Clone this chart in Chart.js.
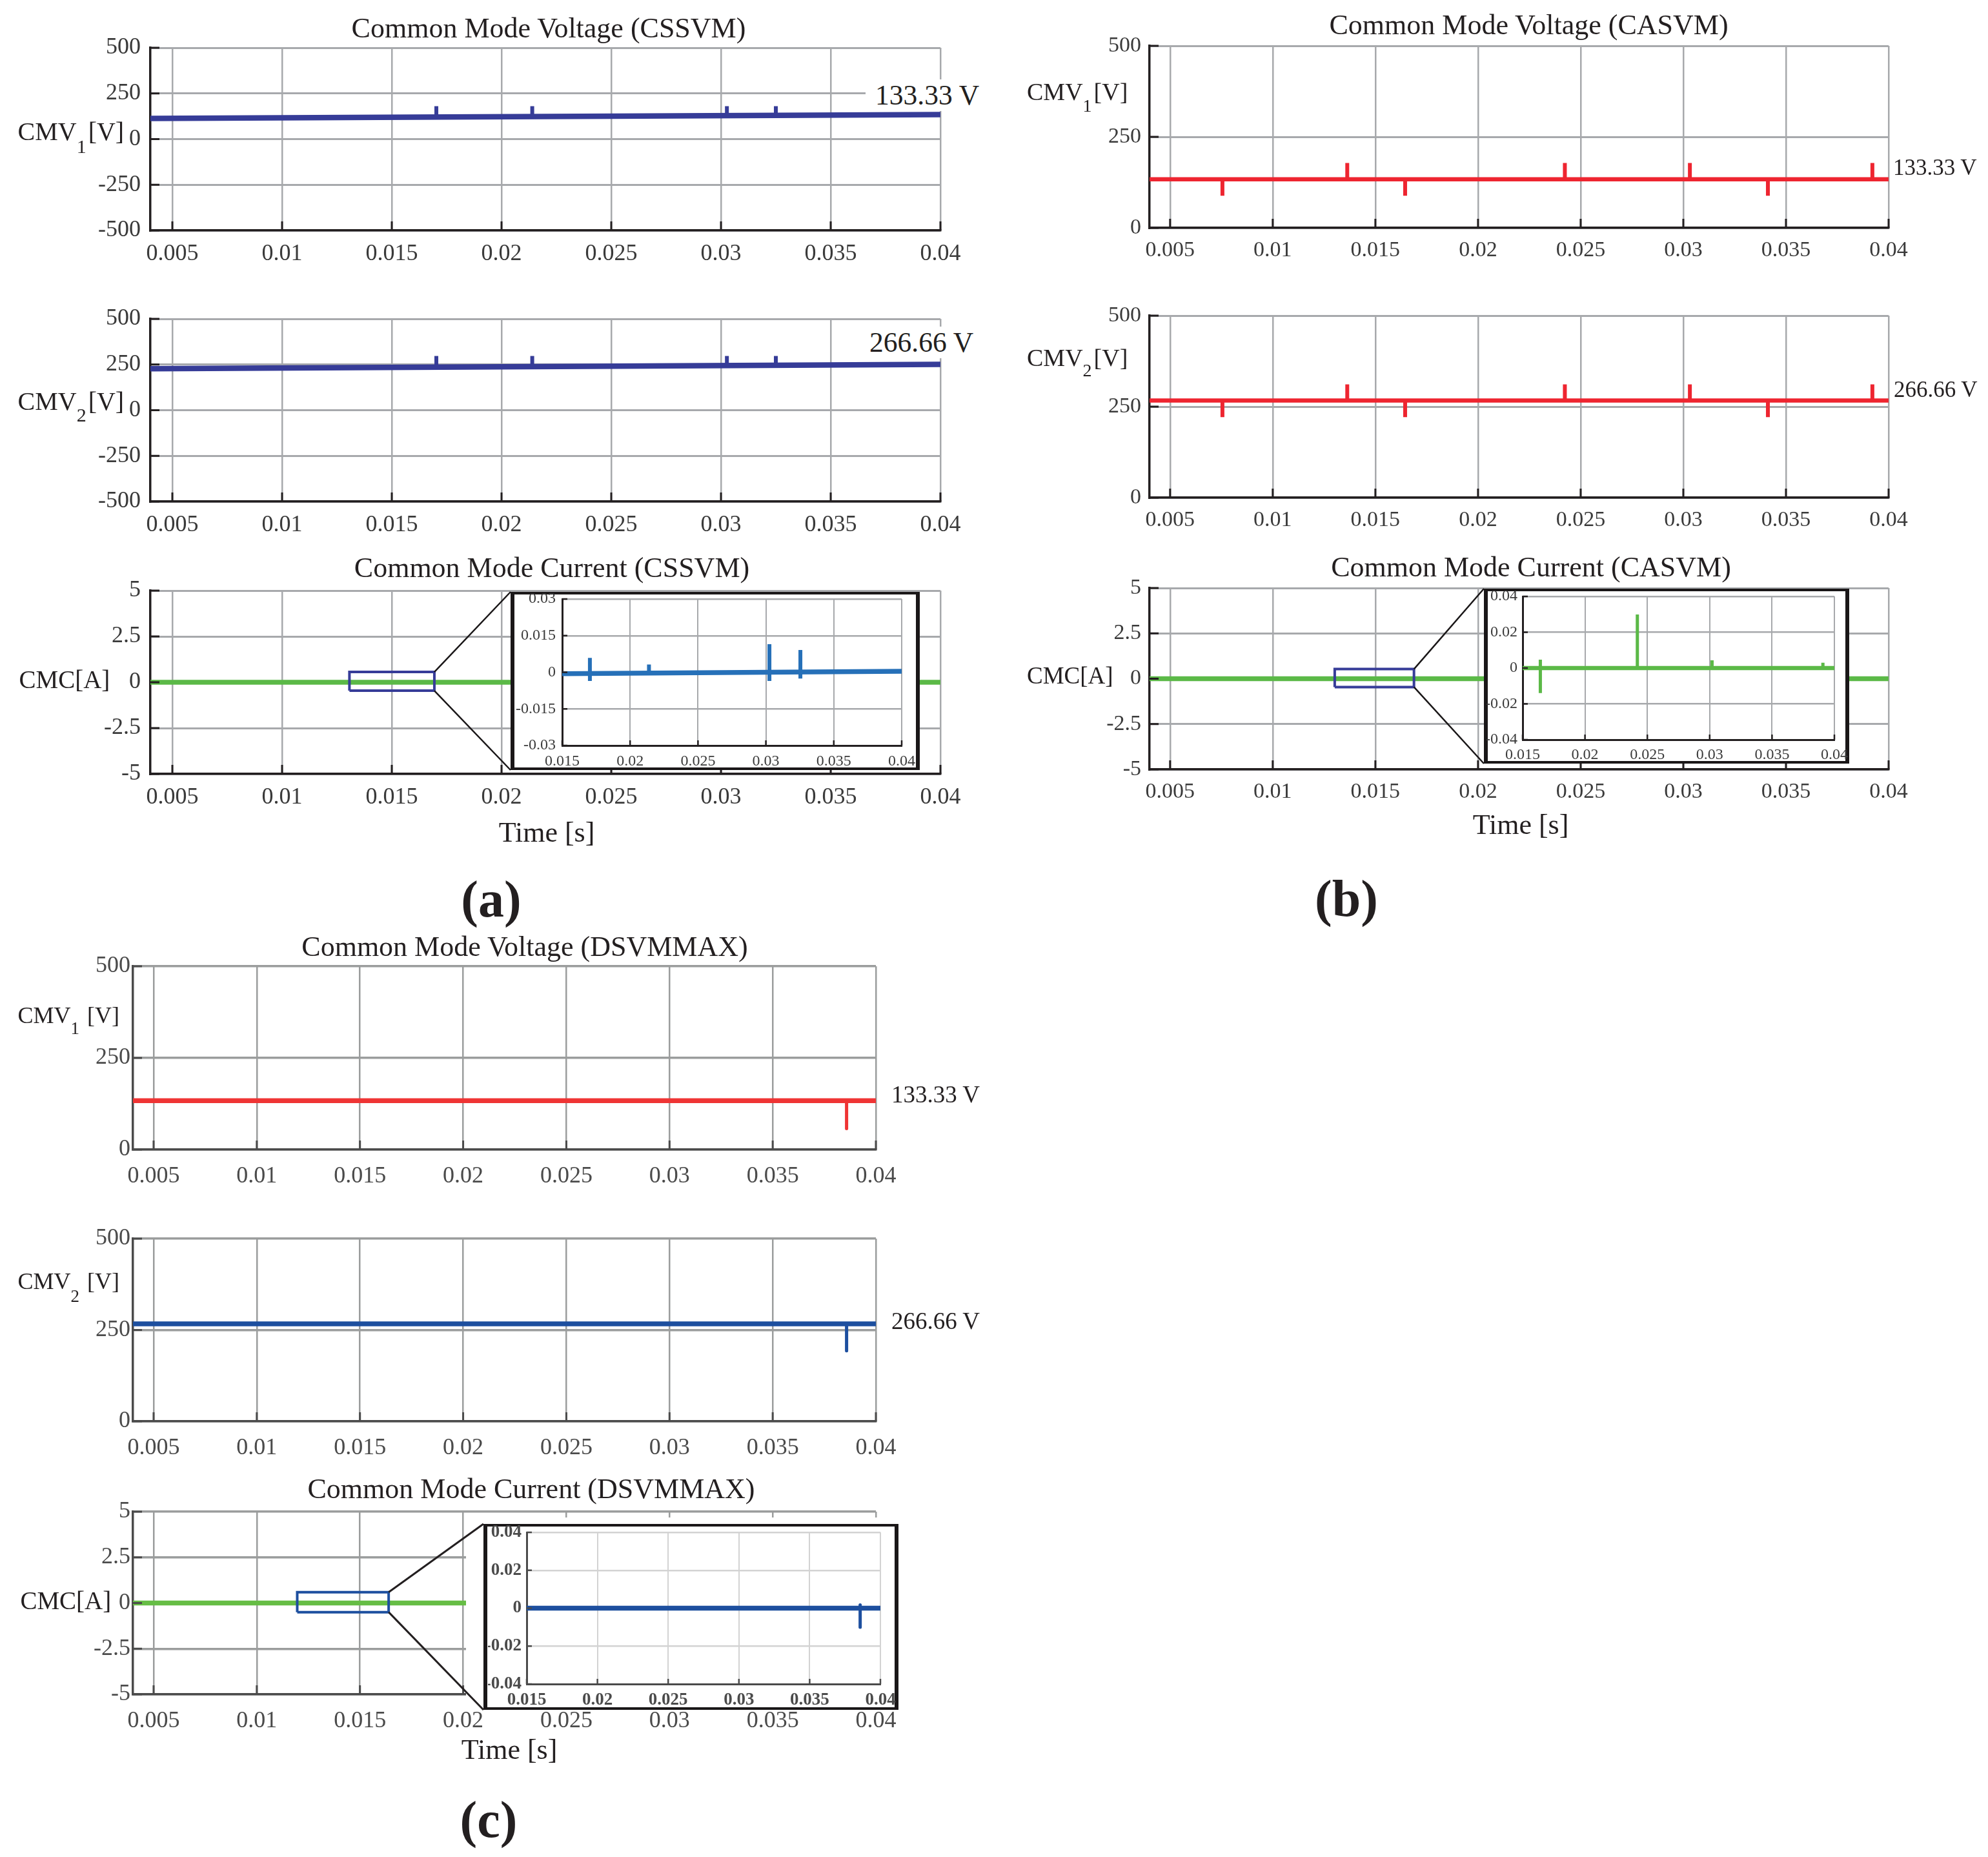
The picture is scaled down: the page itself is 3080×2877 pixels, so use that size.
<!DOCTYPE html>
<html>
<head>
<meta charset="utf-8">
<script src="https://cdn.jsdelivr.net/npm/chart.js@4.4.1/dist/chart.umd.min.js"></script>
<style>
  html, body { margin: 0; padding: 0; background: #fff; }
  #page { position: relative; width: 3080px; height: 2877px; overflow: hidden; background: #fff;
          font-family: 'Liberation Serif', 'Times New Roman', serif; }
  #page canvas { position: absolute; }
  .t { position: absolute; white-space: nowrap; line-height: 1; color: #231f20; }
  .frame { position: absolute; background: #fff; box-sizing: border-box; border-style: solid; border-color: #1a1718; }
  .cover { position: absolute; background: #fff; }
</style>
</head>
<body>
<div id="page"></div>
<script>
// ---- axis ticks ----
const timeTicks = [0.005, 0.01, 0.015, 0.02, 0.025, 0.03, 0.035, 0.04];
const zoomTimeTicks = [0.015, 0.02, 0.025, 0.03, 0.035, 0.04];
const cmvTicksFull = [-500, -250, 0, 250, 500];
const cmvTicksHalf = [0, 250, 500];
const cmcTicks = [-5, -2.5, 0, 2.5, 5];
const zoomTicksA = [-0.03, -0.015, 0, 0.015, 0.03];
const zoomTicksB = [-0.04, -0.02, 0, 0.02, 0.04];

// ---- (a) CSSVM ----
const cssvmT = [0.004, 0.04];
const cssvmCmv1 = [113, 134];
const cssvmCmv2 = [227, 251];
const cssvmSpikeT = [0.01703, 0.0214, 0.03027, 0.0325];
const cssvmCmv1Base = [121, 123, 128, 130];
const cssvmCmv1Peak = [180, 180, 180, 180];
const cssvmCmv2Base = [236, 238, 244, 245];
const cssvmCmv2Peak = [297, 297, 297, 297];
const cssvmCmc = [0, 0];
const cssvmBoxT = [0.01307, 0.01694];
const cssvmBoxA = [-0.46, 0.56];
const cssvmZoomT = [0.015, 0.04];
const cssvmZoomCmc = [-0.0006, 0.0004];
const cssvmZoomSpikeT = [0.01704, 0.02139, 0.03026, 0.03254];
const cssvmZoomLow = [-0.0036, -0.0003, -0.0036, -0.0026];
const cssvmZoomHigh = [0.0059, 0.0032, 0.0115, 0.0091];

// ---- (b) CASVM ----
const casvmT = [0.004, 0.04];
const casvmCmv1 = [133.33, 133.33];
const casvmCmv2 = [266.66, 266.66];
const casvmSpikeT = [0.00755, 0.01363, 0.01645, 0.02423, 0.03032, 0.03412, 0.03921];
const casvmCmv1Spike = [88, 178, 88, 178, 178, 88, 178];
const casvmCmv2Spike = [221, 311, 221, 311, 311, 221, 311];
const casvmCmc = [0, 0];
const casvmBoxT = [0.01302, 0.01688];
const casvmBoxA = [-0.46, 0.53];
const casvmZoomT = [0.015, 0.04];
const casvmZoomCmc = [0, 0];
const casvmZoomSpikeT = [0.01642, 0.0242, 0.03019, 0.03908];
const casvmZoomLow = [-0.014, 0, 0, 0];
const casvmZoomHigh = [0.0047, 0.0299, 0.0043, 0.003];

// ---- (c) DSVMMAX ----
const dsvmT = [0.004, 0.04];
const dsvmCmv1 = [133.33, 133.33];
const dsvmCmv2 = [266.66, 266.66];
const dsvmSpikeT = [0.03858];
const dsvmCmv1Spike = [57];
const dsvmCmv2Spike = [193];
const dsvmCmc = [0, 0];
const dsvmBoxT = [0.01196, 0.01639];
const dsvmBoxA = [-0.5, 0.59];
const dsvmZoomT = [0.015, 0.04];
const dsvmZoomCmc = [0, 0];
const dsvmZoomSpikeT = [0.03857];
const dsvmZoomLow = [-0.01];
const dsvmZoomHigh = [0.0017];

// ---- colours / styles ----
const SERIF = "'Liberation Serif', 'Times New Roman', serif";
const BLUE_A = '#363c98', BLUE_IN = '#2670b8', GREEN = '#5bb947', RED = '#ee2530';
const RED_C = '#ef3434', BLUE_C = '#1d4f9f', GREEN_C = '#66bd45';

const styleA = { grid: '#a7a9ac', axis: '#231f20', tick: '#3a3a3a', size: 36, weight: 'normal', xPad: 15, yPad: 15, gx: 2.5, gy: 3, axisW: 3.5, inLen: 14, inW: 3 };
const styleB = Object.assign({}, styleA, { size: 34, yPad: 13 });
const styleC = { grid: '#9b9d9d', axis: '#4b4b4b', tick: '#4b4b4b', size: 36, weight: 'normal', xPad: 20, yPad: 4, gx: 2.5, gy: 3.5, axisW: 3.5, inLen: 14, inW: 3 };
const insetA = { grid: '#a7a9ac', axis: '#231f20', tick: '#3a3a3a', size: 24, weight: 'normal', xPad: 10, yPad: 10, gx: 2, gy: 2.5, axisW: 3, inLen: 8, inW: 2.5 };
const insetB = Object.assign({}, insetA, { xPad: 9, yPad: 8 });
const insetC = { grid: '#d3d3d3', axis: '#4b4b4b', tick: '#4b4b4b', size: 27, weight: 'bold', xPad: 9, yPad: 8, gx: 2, gy: 2.5, axisW: 3, inLen: 8, inW: 2.5 };

const page = document.getElementById('page');
const overlay = document.createElement('canvas');
overlay.width = 3080; overlay.height = 2877;
overlay.style.cssText = 'left:0;top:0;z-index:5;pointer-events:none';
page.appendChild(overlay);

// inward tick marks on the left and bottom axes
const innerTicks = {
  id: 'innerTicks',
  afterDraw(chart, args, o) {
    if (!o.len) return;
    const { ctx, chartArea: a, scales: { x, y } } = chart;
    ctx.save();
    ctx.strokeStyle = o.color; ctx.lineWidth = o.width;
    ctx.beginPath();
    x.ticks.forEach(t => { const p = x.getPixelForValue(t.value); ctx.moveTo(p, a.bottom); ctx.lineTo(p, a.bottom - o.len); });
    y.ticks.forEach(t => { const p = y.getPixelForValue(t.value); ctx.moveTo(a.left, p); ctx.lineTo(a.left + o.len, p); });
    ctx.stroke();
    ctx.restore();
  }
};

// lines from the zoom box to the inset
const zoomLink = {
  id: 'zoomLink',
  afterDraw(chart, args, o) {
    if (!o.box) return;
    const { x, y } = chart.scales;
    const ox = parseFloat(chart.canvas.style.left), oy = parseFloat(chart.canvas.style.top);
    const px = x.getPixelForValue(o.box[1]) + ox;
    const top = y.getPixelForValue(o.box[3]) + oy, bot = y.getPixelForValue(o.box[2]) + oy;
    const g = overlay.getContext('2d');
    g.save();
    g.strokeStyle = o.color; g.lineWidth = o.width;
    g.beginPath();
    g.moveTo(px, top); g.lineTo(o.to[0], o.to[1]);
    g.moveTo(px, bot); g.lineTo(o.to[0], o.to[2]);
    g.stroke();
    g.restore();
  }
};

function line(ts, vs, color, width, cap) {
  return { data: ts.map((t, i) => ({ x: t, y: vs[i] })), borderColor: color, borderWidth: width,
           borderCapStyle: cap || 'butt', pointRadius: 0, fill: false };
}
function spikes(ts, from, to, color, width, cap) {
  return { data: ts.flatMap((t, i) => [{ x: t, y: from[i] }, { x: t, y: to[i] }, { x: t, y: null }]),
           borderColor: color, borderWidth: width, borderCapStyle: cap || 'butt', pointRadius: 0, fill: false };
}
function rect(ts, vs, color, width) {
  return { data: [{ x: ts[0], y: vs[0] }, { x: ts[1], y: vs[0] }, { x: ts[1], y: vs[1] }, { x: ts[0], y: vs[1] }, { x: ts[0], y: vs[0] }],
           borderColor: color, borderWidth: width, borderJoinStyle: 'miter', pointRadius: 0, fill: false };
}

function plot(o) {
  const st = o.st, YW = o.yw || 110, XH = o.xh || 70, PT = o.pt || 30, PR = o.pr || 50;
  const cv = document.createElement('canvas');
  const w = o.r - o.l + YW + PR, h = o.b - o.t + PT + XH;
  cv.width = w; cv.height = h;
  cv.style.left = (o.l - YW) + 'px'; cv.style.top = (o.t - PT) + 'px';
  cv.style.width = w + 'px'; cv.style.height = h + 'px';
  page.appendChild(cv);
  const font = { family: SERIF, size: st.size, weight: st.weight };
  new Chart(cv, {
    type: 'line',
    data: { datasets: o.ds },
    options: {
      responsive: false, animation: false, devicePixelRatio: 1,
      layout: { padding: { left: 0, top: PT, right: PR, bottom: 0 } },
      plugins: {
        legend: { display: false }, tooltip: { enabled: false },
        innerTicks: { len: st.inLen, width: st.inW, color: st.axis },
        zoomLink: o.link || {}
      },
      scales: {
        x: {
          type: 'linear', min: o.xmin, max: o.xmax,
          afterBuildTicks: s => { s.ticks = o.xt.map(v => ({ value: v })); },
          afterFit: s => { s.height = XH; s.paddingLeft = 0; s.paddingRight = 0; },
          ticks: { callback: v => String(v), font, color: st.tick, padding: st.xPad, autoSkip: false, maxRotation: 0, minRotation: 0 },
          grid: { color: st.grid, lineWidth: st.gx, drawTicks: false },
          border: { color: st.axis, width: st.axisW }
        },
        y: {
          type: 'linear', min: o.ymin, max: o.ymax,
          afterBuildTicks: s => { s.ticks = o.yt.map(v => ({ value: v })); },
          afterFit: s => { s.width = YW; s.paddingTop = 0; s.paddingBottom = 0; },
          ticks: { callback: v => String(v), font, color: st.tick, padding: st.yPad, autoSkip: false },
          grid: { color: st.grid, lineWidth: st.gy, drawTicks: false },
          border: { color: st.axis, width: st.axisW }
        }
      }
    },
    plugins: [innerTicks, zoomLink]
  });
}

function text(html, x, base, size, align, extra) {
  const d = document.createElement('div');
  d.className = 't';
  d.innerHTML = html;
  d.style.fontSize = size + 'px';
  d.style.left = x + 'px';
  d.style.top = (base - 0.8375 * size) + 'px';
  if (align === 'center') d.style.transform = 'translateX(-50%)';
  if (align === 'right') d.style.transform = 'translateX(-100%)';
  Object.assign(d.style, extra || {});
  page.appendChild(d);
  return d;
}
function ylab(x, base, size, sub, subSize, shift, tail) {
  const html = 'CMV<span style="font-size:' + subSize + 'px;position:relative;top:' + shift + 'px;margin-right:3px">' + sub + '</span>' + tail;
  return text(html, x, base, size);
}
function frame(l, t, r, b, bw) {
  const d = document.createElement('div');
  d.className = 'frame';
  Object.assign(d.style, { left: l + 'px', top: t + 'px', width: (r - l) + 'px', height: (b - t) + 'px', borderWidth: bw });
  page.appendChild(d);
}
function cover(l, t, r, b) {
  const d = document.createElement('div');
  d.className = 'cover';
  Object.assign(d.style, { left: l + 'px', top: t + 'px', width: (r - l) + 'px', height: (b - t) + 'px' });
  page.appendChild(d);
}

// ================= (a) CSSVM =================
plot({ l: 233, t: 74, r: 1457, b: 357, xmin: 0.004, xmax: 0.04, xt: timeTicks, ymin: -500, ymax: 500, yt: cmvTicksFull, st: styleA,
  ds: [line(cssvmT, cssvmCmv1, BLUE_A, 8.5), spikes(cssvmSpikeT, cssvmCmv1Base, cssvmCmv1Peak, BLUE_A, 6)] });
plot({ l: 233, t: 494, r: 1457, b: 777, xmin: 0.004, xmax: 0.04, xt: timeTicks, ymin: -500, ymax: 500, yt: cmvTicksFull, st: styleA,
  ds: [line(cssvmT, cssvmCmv2, BLUE_A, 8.5), spikes(cssvmSpikeT, cssvmCmv2Base, cssvmCmv2Peak, BLUE_A, 6)] });
plot({ l: 233, t: 915, r: 1457, b: 1199, xmin: 0.004, xmax: 0.04, xt: timeTicks, ymin: -5, ymax: 5, yt: cmcTicks, st: styleA,
  ds: [rect(cssvmBoxT, cssvmBoxA, BLUE_A, 4), line(cssvmT, cssvmCmc, GREEN, 7.5)],
  link: { box: cssvmBoxT.concat(cssvmBoxA), to: [791, 917, 1193], color: '#1a1718', width: 2.5 } });
frame(791, 917, 1425, 1193, '4px 6px');
plot({ l: 871, t: 928, r: 1397, b: 1155, xmin: 0.015, xmax: 0.04, xt: zoomTimeTicks, ymin: -0.03, ymax: 0.03, yt: zoomTicksA, st: insetA,
  yw: 72, xh: 40, pt: 20, pr: 30,
  ds: [line(cssvmZoomT, cssvmZoomCmc, BLUE_IN, 7.5), spikes(cssvmZoomSpikeT, cssvmZoomLow, cssvmZoomHigh, BLUE_IN, 6)] });

text('Common Mode Voltage (CSSVM)', 850, 59, 44, 'center');
text('Common Mode Current (CSSVM)', 855, 895, 44, 'center');
text('Time [s]', 847, 1305, 44, 'center');
ylab(27.5, 217, 40, '1', 30, 20, '[V]');
ylab(27.5, 635, 40, '2', 30, 18, '[V]');
text('CMC[A]', 29.5, 1066, 39);
text('133.33 V', 1356, 162, 43.5, null, { background: '#fff', padding: '3px 4px 3px 15px', marginLeft: '-15px', marginTop: '-3px' });
text('266.66 V', 1347, 545, 43.5, null, { background: '#fff', padding: '3px 4px 3px 10px', marginLeft: '-10px', marginTop: '-3px' });
text('(a)', 761, 1420, 80, 'center', { fontWeight: 'bold' });

// ================= (b) CASVM =================
plot({ l: 1781, t: 71, r: 2926, b: 353, xmin: 0.004, xmax: 0.04, xt: timeTicks, ymin: 0, ymax: 500, yt: cmvTicksHalf, st: styleB,
  ds: [line(casvmT, casvmCmv1, RED, 6.5), spikes(casvmSpikeT, casvmSpikeT.map(() => casvmCmv1[0]), casvmCmv1Spike, RED, 6)] });
plot({ l: 1781, t: 489, r: 2926, b: 771, xmin: 0.004, xmax: 0.04, xt: timeTicks, ymin: 0, ymax: 500, yt: cmvTicksHalf, st: styleB,
  ds: [line(casvmT, casvmCmv2, RED, 6.5), spikes(casvmSpikeT, casvmSpikeT.map(() => casvmCmv2[0]), casvmCmv2Spike, RED, 6)] });
plot({ l: 1781, t: 911, r: 2926, b: 1192, xmin: 0.004, xmax: 0.04, xt: timeTicks, ymin: -5, ymax: 5, yt: cmcTicks, st: styleB,
  ds: [rect(casvmBoxT, casvmBoxA, BLUE_A, 4), line(casvmT, casvmCmc, GREEN, 7.5)],
  link: { box: casvmBoxT.concat(casvmBoxA), to: [2299, 912, 1183], color: '#1a1718', width: 2.5 } });
frame(2299, 912, 2865, 1183, '4px 6px');
plot({ l: 2359, t: 924, r: 2842, b: 1146, xmin: 0.015, xmax: 0.04, xt: zoomTimeTicks, ymin: -0.04, ymax: 0.04, yt: zoomTicksB, st: insetB,
  yw: 56, xh: 34, pt: 20, pr: 26,
  ds: [line(casvmZoomT, casvmZoomCmc, GREEN, 6.5), spikes(casvmZoomSpikeT, casvmZoomLow, casvmZoomHigh, GREEN, 5)] });

text('Common Mode Voltage (CASVM)', 2368.5, 54, 44, 'center');
text('Common Mode Current (CASVM)', 2372, 894, 44, 'center');
text('Time [s]', 2356, 1293, 44, 'center');
ylab(1591, 155, 38, '1', 28, 18, '[V]');
ylab(1591, 567, 38, '2', 28, 16, '[V]');
text('CMC[A]', 1591, 1059, 37);
text('133.33 V', 2933, 271, 35);
text('266.66 V', 2934, 615, 35);
text('(b)', 2086, 1419, 80, 'center', { fontWeight: 'bold' });

// ================= (c) DSVMMAX =================
plot({ l: 206, t: 1497, r: 1357, b: 1781, xmin: 0.004, xmax: 0.04, xt: timeTicks, ymin: 0, ymax: 500, yt: cmvTicksHalf, st: styleC,
  ds: [line(dsvmT, dsvmCmv1, RED_C, 7.5, 'round'), spikes(dsvmSpikeT, dsvmSpikeT.map(() => dsvmCmv1[0]), dsvmCmv1Spike, RED_C, 5, 'round')] });
plot({ l: 206, t: 1919, r: 1357, b: 2202, xmin: 0.004, xmax: 0.04, xt: timeTicks, ymin: 0, ymax: 500, yt: cmvTicksHalf, st: styleC,
  ds: [line(dsvmT, dsvmCmv2, BLUE_C, 7.5, 'round'), spikes(dsvmSpikeT, dsvmSpikeT.map(() => dsvmCmv2[0]), dsvmCmv2Spike, BLUE_C, 5, 'round')] });
plot({ l: 206, t: 2342, r: 1357, b: 2625, xmin: 0.004, xmax: 0.04, xt: timeTicks, ymin: -5, ymax: 5, yt: cmcTicks, st: styleC,
  ds: [rect(dsvmBoxT, dsvmBoxA, BLUE_C, 4), line(dsvmT, dsvmCmc, GREEN_C, 7.5)],
  link: { box: dsvmBoxT.concat(dsvmBoxA), to: [749, 2361, 2649], color: '#231f20', width: 3 } });
cover(722, 2351, 1392, 2632);
frame(749, 2361, 1392, 2649, '4px 6px');
plot({ l: 816, t: 2374, r: 1364, b: 2609, xmin: 0.015, xmax: 0.04, xt: zoomTimeTicks, ymin: -0.04, ymax: 0.04, yt: zoomTicksB, st: insetC,
  yw: 60, xh: 36, pt: 20, pr: 30,
  ds: [line(dsvmZoomT, dsvmZoomCmc, BLUE_C, 7.5, 'round'), spikes(dsvmZoomSpikeT, dsvmZoomLow, dsvmZoomHigh, BLUE_C, 5, 'round')] });

text('Common Mode Voltage (DSVMMAX)', 813, 1482, 44, 'center');
text('Common Mode Current (DSVMMAX)', 823, 2322, 44, 'center');
text('Time [s]', 789, 2726, 44, 'center');
ylab(27.5, 1585, 36, '1', 27, 17, ' [V]');
ylab(27.5, 1997, 36, '2', 27, 20, ' [V]');
text('CMC[A]', 31.4, 2493, 39);
text('133.33 V', 1381, 1708, 37);
text('266.66 V', 1381, 2059, 37);
text('(c)', 757, 2846, 80, 'center', { fontWeight: 'bold' });
</script>
</body>
</html>
